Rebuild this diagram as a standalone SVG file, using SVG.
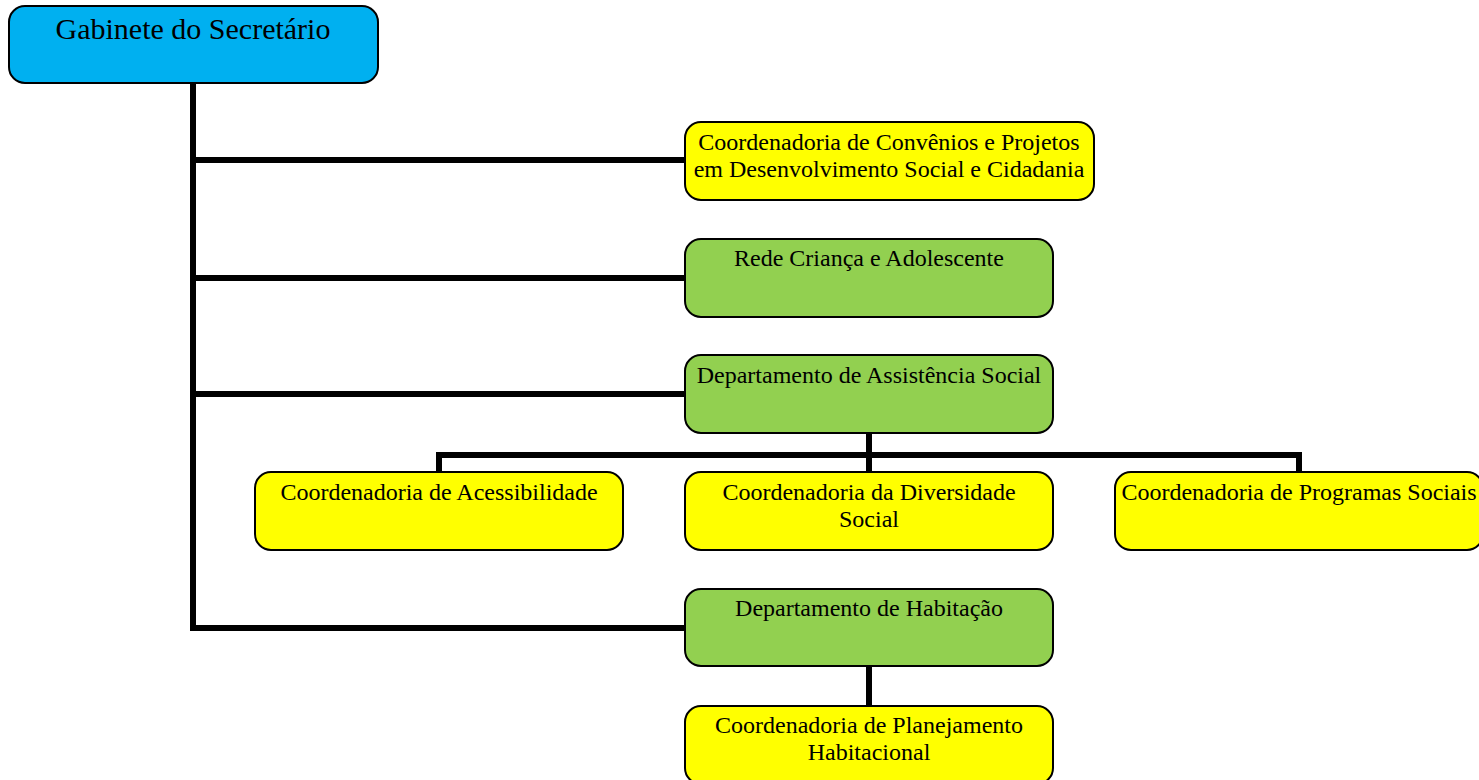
<svg xmlns="http://www.w3.org/2000/svg" width="1479" height="780" viewBox="0 0 1479 780">
<style>
.box{stroke:#000;stroke-width:2}
.blue{fill:#00b0f0}
.yellow{fill:#ffff00}
.green{fill:#92d050}
.t{font-family:"Liberation Serif","Times New Roman",serif;font-size:24px;fill:#000;text-anchor:middle}
.big{font-size:30px}
.c{fill:none;stroke:#000;stroke-width:6}
</style>
<rect width="1479" height="780" fill="#fff"/>
<g id="connectors">
<path class="c" d="M193 83 V628 H685"/>
<path class="c" d="M193 160 H685"/>
<path class="c" d="M193 278 H685"/>
<path class="c" d="M193 394 H685"/>
<path class="c" d="M869 433 V472"/>
<path class="c" d="M439 472 V455 H1299 V472"/>
<path class="c" d="M869 666 V706"/>
</g>
<g id="gabinete">
<rect class="box blue" x="9" y="6" width="369" height="77" rx="16"/>
<text class="t big" x="193" y="39">Gabinete do Secretário</text>
</g>
<g id="convenios">
<rect class="box yellow" x="685" y="122" width="409" height="78" rx="16"/>
<text class="t" x="889" y="150">Coordenadoria de Convênios e Projetos</text>
<text class="t" x="889" y="177">em Desenvolvimento Social e Cidadania</text>
</g>
<g id="rede">
<rect class="box green" x="685" y="239" width="368" height="78" rx="16"/>
<text class="t" x="869" y="266">Rede Criança e Adolescente</text>
</g>
<g id="assistencia">
<rect class="box green" x="685" y="355" width="368" height="78" rx="16"/>
<text class="t" x="869" y="383">Departamento de Assistência Social</text>
</g>
<g id="acessibilidade">
<rect class="box yellow" x="255" y="472" width="368" height="78" rx="16"/>
<text class="t" x="439" y="500">Coordenadoria de Acessibilidade</text>
</g>
<g id="diversidade">
<rect class="box yellow" x="685" y="472" width="368" height="78" rx="16"/>
<text class="t" x="869" y="500">Coordenadoria da Diversidade</text>
<text class="t" x="869" y="527">Social</text>
</g>
<g id="programas">
<rect class="box yellow" x="1115" y="472" width="368" height="78" rx="16"/>
<text class="t" x="1299" y="500">Coordenadoria de Programas Sociais</text>
</g>
<g id="habitacao">
<rect class="box green" x="685" y="589" width="368" height="77" rx="16"/>
<text class="t" x="869" y="616">Departamento de Habitação</text>
</g>
<g id="planejamento">
<rect class="box yellow" x="685" y="706" width="368" height="78" rx="16"/>
<text class="t" x="869" y="733">Coordenadoria de Planejamento</text>
<text class="t" x="869" y="760">Habitacional</text>
</g>
</svg>
